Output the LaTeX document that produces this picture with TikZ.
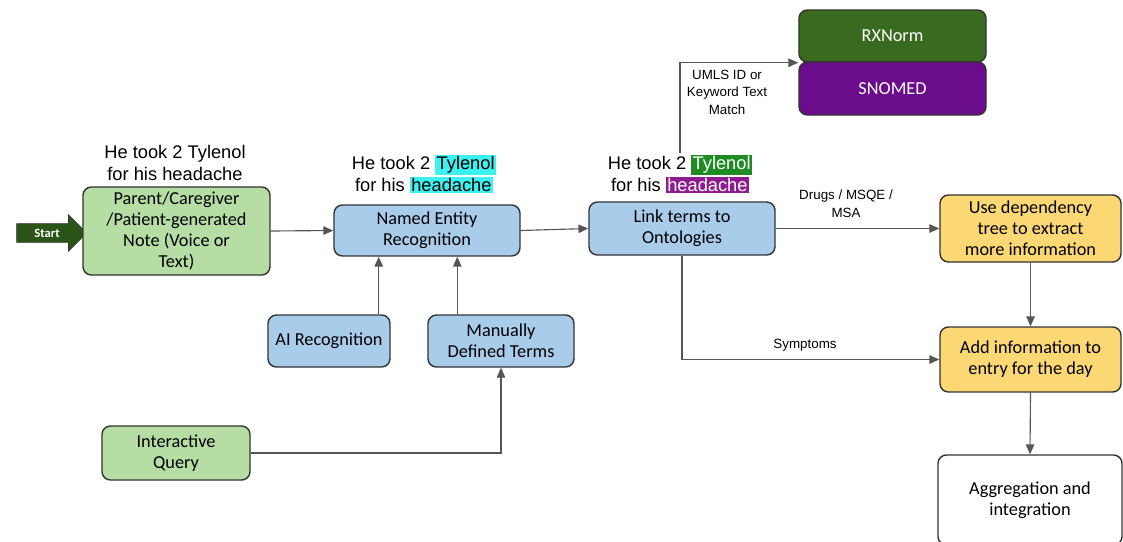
\documentclass[tikz,border=0pt]{standalone}
\usepackage{fontspec}
\setmainfont{Carlito}
\newfontfamily\arialfont{Liberation Sans}
\usepackage{tikz}
\usetikzlibrary{shapes.arrows, arrows.meta, positioning, calc}
\usepackage{xcolor}
\definecolor{notegreen}{HTML}{B5DDA4}
\definecolor{nerblue}{HTML}{A9CCEB}
\definecolor{taskyellow}{HTML}{FCD874}
\definecolor{rxgreen}{HTML}{386B1F}
\definecolor{snopurple}{HTML}{6A0C8C}
\definecolor{startgreen}{HTML}{2A5418}
\definecolor{hlcyan}{HTML}{3CF2F0}
\definecolor{hlgreen}{HTML}{1E8C23}
\definecolor{hlpurple}{HTML}{8E1C8E}
\definecolor{linegray}{HTML}{555555}
\newcommand{\hlword}[3]{{\setlength{\fboxsep}{1pt}\colorbox{#1}{\textcolor{#2}{#3}}}}
\tikzset{
  component/.style={
    rectangle, rounded corners=6pt, align=center, inner sep=2pt,
    font=\fontsize{13}{15}\selectfont, draw=black!80, line width=1pt, fill=#1
  },
  connector/.style={
    -{Triangle[length=7pt, width=6pt]}, line width=0.8pt, color=linegray
  },
  phrase/.style={
    align=center, inner sep=1pt, font=\arialfont\fontsize{13}{15.5}\selectfont
  },
  edgelabel/.style={
    align=center, inner sep=1pt, font=\arialfont\fontsize{9.5}{12.5}\selectfont
  }
}

\begin{document}
\begin{tikzpicture}[x=0.025cm, y=-0.025cm]
  \useasboundingbox (0,0) rectangle (1123,541);

  % Input side
  \node[single arrow, fill=startgreen, draw=black!80, text=white,
        font=\bfseries\small, single arrow head extend=0.22cm,
        minimum height=1.75cm, inner xsep=2pt, inner ysep=3.5pt] (start) at (47,233) {Start};
  \node[component=notegreen, minimum width=4.675cm, minimum height=2.2cm] (note) at (176.5,231)
    {Parent/Caregiver\\/Patient-generated\\Note (Voice or\\Text)};
  \node[phrase] (cap1) at (175,163) {He took 2 Tylenol\\for his headache};

  % Recognition
  \node[component=nerblue, minimum width=4.65cm, minimum height=1.275cm] (ner) at (427,230.5)
    {Named Entity\\Recognition};
  \node[phrase] (cap2) at (424,174)
    {He took 2 \hlword{hlcyan}{black}{Tylenol}\\for his \hlword{hlcyan}{black}{headache}};
  \node[component=nerblue, minimum width=3.05cm, minimum height=1.3cm] (airec) at (329,341)
    {AI Recognition};
  \node[component=nerblue, minimum width=3.65cm, minimum height=1.3cm] (manual) at (501,341)
    {Manually\\Defined Terms};
  \node[component=notegreen, minimum width=3.7cm, minimum height=1.35cm] (query) at (176,453)
    {Interactive\\Query};

  % Ontologies
  \node[component=nerblue, minimum width=4.65cm, minimum height=1.325cm] (link) at (682,228.5)
    {Link terms to\\Ontologies};
  \node[phrase] (cap3) at (680,174)
    {He took 2 \hlword{hlgreen}{white}{Tylenol}\\for his \hlword{hlpurple}{white}{headache}};
  \node[component=rxgreen, text=white, minimum width=4.675cm, minimum height=1.3cm] (rxnorm) at (892.5,36)
    {RXNorm};
  \node[component=snopurple, text=white, minimum width=4.675cm, minimum height=1.325cm] (snomed) at (892.5,88.5)
    {SNOMED};

  % Output side
  \node[component=taskyellow, minimum width=4.525cm, minimum height=1.675cm] (usedep) at (1030.5,228.5)
    {Use dependency\\tree to extract\\more information};
  \node[component=taskyellow, minimum width=4.525cm, minimum height=1.625cm] (addinfo) at (1030.5,359.5)
    {Add information to\\entry for the day};
  \node[component=white, minimum width=4.6cm, minimum height=2.25cm] (aggr) at (1030,500)
    {Aggregation and\\integration};

  % Connections
  \draw[connector] (note.east) -- (ner.west);
  \draw[connector] (ner.east) -- (link.west);
  \draw[connector] ([xshift=-0.3cm]airec.north east) -- ([xshift=-0.3cm]airec.north east |- ner.south);
  \draw[connector] ([xshift=0.75cm]manual.north west) -- ([xshift=0.75cm]manual.north west |- ner.south);
  \draw[connector] (query.east) -| (manual.south);
  \draw[connector] (cap3.north) |- (rxnorm.south west);
  \draw[connector] (link.east) -- (usedep.west);
  \draw[connector] (link.south) |- (addinfo.west);
  \draw[connector] (usedep.south) -- (addinfo.north);
  \draw[connector] (addinfo.south) -- (aggr.north);

  % Labels
  \node[edgelabel] (umls) at (727,92) {UMLS ID or\\Keyword Text\\Match};
  \node[edgelabel] (drugs) at (846,204) {Drugs / MSQE /\\MSA};
  \node[edgelabel] (symp) at (805,345) {Symptoms};

\end{tikzpicture}
\end{document}
